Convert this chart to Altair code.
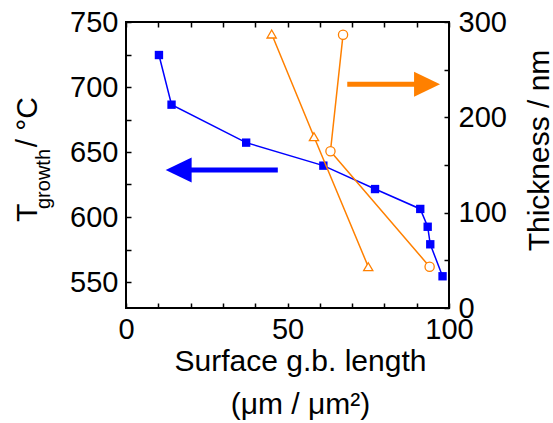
import altair as alt
import pandas as pd

# ---------------- data ----------------
blue_x = [10.2, 14.1, 37.2, 61.1, 77.1, 91.1, 93.4, 94.2, 98.0]
blue_T = [724.6, 686.4, 657.2, 639.5, 621.5, 606.2, 592.5, 579.0, 554.4]

tri_x = [45.1, 58.2, 75.0]
tri_th = [287.4, 179.7, 43.3]
circ_x = [67.2, 63.3, 94.0]
circ_th = [286.7, 164.4, 43.3]

x_ticks = list(range(0, 101, 10))
x_labels = [0, 50, 100]
T_ticks = list(range(550, 751, 25))
T_labels = [550, 600, 650, 700, 750]
th_ticks = list(range(0, 301, 50))
th_labels = [0, 100, 200, 300]

# arrows (data units)
blue_arrow_shaft = {"x": [18.0], "x2": [47.0], "T": [636.2]}
blue_arrow_head = {"x": [16.3], "T": [636.2]}
orange_arrow_shaft = {"x": [68.5], "x2": [91.0], "th": [234.7]}
orange_arrow_head = {"x": [93.2], "th": [234.7]}

x_title = ["Surface g.b. length", "(μm / μm²)"]
y_title_parts = ["T", "growth", " / °C"]
y2_title = "Thickness / nm"

BLUE = "#0000FF"
ORANGE = "#FF8000"
FONT = "Liberation Sans"

# ---------------- frames ----------------
blue_df = pd.DataFrame({"x": blue_x, "T": blue_T})
orange_df = pd.DataFrame({
    "x": tri_x + circ_x,
    "th": tri_th + circ_th,
    "series": ["tri"] * 3 + ["circ"] * 3,
    "order": [0, 1, 2, 0, 1, 2],
})

xs = alt.Scale(domain=[0, 100], nice=False, zero=False)
ysT = alt.Scale(domain=[530, 750], nice=False, zero=False)
ysTh = alt.Scale(domain=[0, 300], nice=False, zero=False)

common_axis = dict(grid=False, labelFont=FONT, labelColor="black", tickColor="black",
                   titleFont=FONT, titleColor="black", titleFontWeight="normal")

# labelled axes (no ticks, no domain; box from view stroke)
x_lab_axis = alt.Axis(orient="bottom", values=x_labels, ticks=False, domain=False,
                      labelFontSize=29, labelPadding=7, labelFlush=False,
                      title=x_title, titleFontSize=30, titleLineHeight=43,
                      titleAlign="center", titleBaseline="alphabetic",
                      titleX=174, titleY=62, **common_axis)
T_lab_axis = alt.Axis(orient="left", values=T_labels, ticks=False, domain=False,
                      labelFontSize=29, labelPadding=8, title=None, **common_axis)
th_lab_axis = alt.Axis(orient="right", values=th_labels, ticks=False, domain=False,
                       labelFontSize=29, labelPadding=9, labelFlush=False,
                       title=y2_title, titleFontSize=30, titleAngle=270,
                       titleAlign="center", titleBaseline="alphabetic",
                       titleX=99, titleY=128, **common_axis)

# inward tick axes
TS = 5
def tick_axis(orient, vals):
    return alt.Axis(orient=orient, values=vals, ticks=True, tickSize=TS, tickWidth=1.5,
                    offset=-TS, labels=False, domain=False, title=None, grid=False,
                    tickColor="black")

# blue series
blue_line = alt.Chart(blue_df).mark_line(color=BLUE, strokeWidth=1.5).encode(
    x=alt.X("x:Q", scale=xs, axis=x_lab_axis),
    y=alt.Y("T:Q", scale=ysT, axis=T_lab_axis),
)
blue_pts = alt.Chart(blue_df).mark_point(shape="square", filled=True, size=70,
                                         color=BLUE, opacity=1).encode(
    x=alt.X("x:Q", scale=xs, axis=None),
    y=alt.Y("T:Q", scale=ysT, axis=None),
)

# orange series
orange_line = alt.Chart(orange_df).mark_line(color=ORANGE, strokeWidth=1.5).encode(
    x=alt.X("x:Q", scale=xs, axis=None),
    y=alt.Y("th:Q", scale=ysTh, axis=th_lab_axis),
    detail="series:N",
    order="order:Q",
)
orange_pts = alt.Chart(orange_df).mark_point(filled=True, fill="white", stroke=ORANGE,
                                             strokeWidth=1.3, size=85, opacity=1).encode(
    x=alt.X("x:Q", scale=xs, axis=None),
    y=alt.Y("th:Q", scale=ysTh, axis=None),
    shape=alt.Shape("series:N", scale=alt.Scale(domain=["tri", "circ"],
                                                range=["triangle-up", "circle"]), legend=None),
)

# arrows
b_shaft = alt.Chart(pd.DataFrame(blue_arrow_shaft)).mark_rule(color=BLUE, strokeWidth=5).encode(
    x=alt.X("x:Q", scale=xs, axis=None), x2="x2:Q",
    y=alt.Y("T:Q", scale=ysT, axis=None),
)
b_head = alt.Chart(pd.DataFrame(blue_arrow_head)).mark_point(
    shape="M-1,0L1,-0.96L1,0.96Z", filled=True, size=676, color=BLUE, opacity=1, strokeWidth=0
).encode(
    x=alt.X("x:Q", scale=xs, axis=None),
    y=alt.Y("T:Q", scale=ysT, axis=None),
)
o_shaft = alt.Chart(pd.DataFrame(orange_arrow_shaft)).mark_rule(color=ORANGE, strokeWidth=5).encode(
    x=alt.X("x:Q", scale=xs, axis=None), x2="x2:Q",
    y=alt.Y("th:Q", scale=ysTh, axis=None),
)
o_head = alt.Chart(pd.DataFrame(orange_arrow_head)).mark_point(
    shape="M1,0L-1,-0.96L-1,0.96Z", filled=True, size=676, color=ORANGE, opacity=1, strokeWidth=0
).encode(
    x=alt.X("x:Q", scale=xs, axis=None),
    y=alt.Y("th:Q", scale=ysTh, axis=None),
)

# tick-only layers
ticks_a = alt.Chart(blue_df).mark_point(opacity=0).encode(
    x=alt.X("x:Q", scale=xs, axis=tick_axis("bottom", x_ticks)),
    y=alt.Y("T:Q", scale=ysT, axis=tick_axis("left", T_ticks)),
)
ticks_b = alt.Chart(orange_df).mark_point(opacity=0).encode(
    x=alt.X("x:Q", scale=xs, axis=tick_axis("top", x_ticks)),
    y=alt.Y("th:Q", scale=ysTh, axis=tick_axis("right", th_ticks)),
)

# left title with subscript
t_main = alt.Chart(pd.DataFrame({"t": [y_title_parts[0]]})).mark_text(
    angle=270, align="left", baseline="alphabetic", font=FONT, fontSize=30, color="black"
).encode(x=alt.value(-89), y=alt.value(200), text="t:N")
t_sub = alt.Chart(pd.DataFrame({"t": [y_title_parts[1]]})).mark_text(
    angle=270, align="left", baseline="alphabetic", font=FONT, fontSize=20, color="black"
).encode(x=alt.value(-76), y=alt.value(187), text="t:N")
t_rest = alt.Chart(pd.DataFrame({"t": [y_title_parts[2]]})).mark_text(
    angle=270, align="right", baseline="alphabetic", font=FONT, fontSize=30, color="black"
).encode(x=alt.value(-89), y=alt.value(75), text="t:N")

chart = alt.layer(
    ticks_a, ticks_b,
    blue_line, blue_pts,
    orange_line, orange_pts,
    b_shaft, b_head, o_shaft, o_head,
    t_main, t_sub, t_rest,
).resolve_scale(x="shared", y="independent").resolve_axis(
    x="independent", y="independent"
).properties(
    width=323, height=286,
    padding={"left": 126, "top": 22, "right": 104, "bottom": 115},
    autosize=alt.AutoSizeParams(type="none"),
    background="white",
).configure_view(stroke="black", strokeWidth=2)

chart.save("out.html", embed_options={"renderer": "svg", "actions": False})
